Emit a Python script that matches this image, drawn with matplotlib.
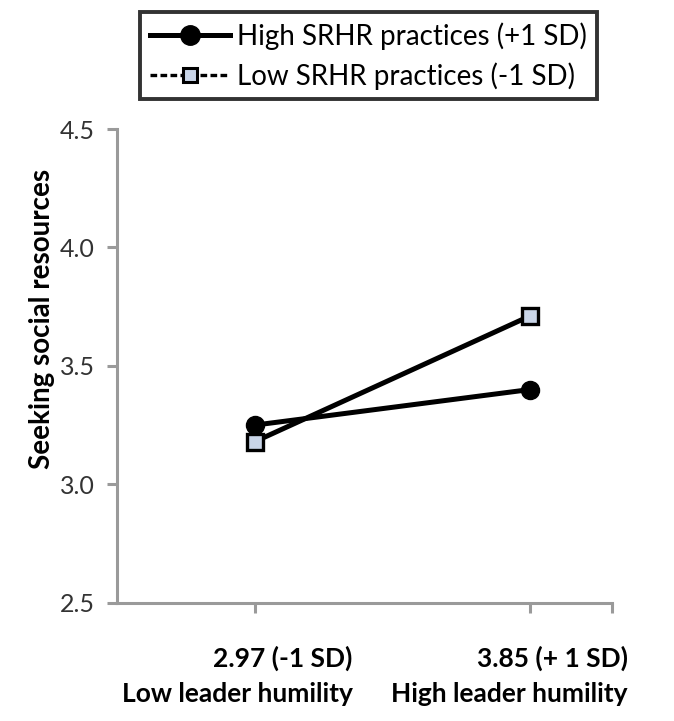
import matplotlib
matplotlib.use("Agg")
import matplotlib.pyplot as plt
from matplotlib.lines import Line2D
from matplotlib.transforms import ScaledTranslation

plt.rcParams['font.family'] = ['Lato', 'DejaVu Sans']

# data
x_pos = [1, 2]
x_labels = ['2.97 (-1 SD)\nLow leader humility', '3.85 (+ 1 SD)\nHigh leader humility']
high_srhr = [3.25, 3.40]
low_srhr = [3.18, 3.71]
y_ticks = [2.5, 3.0, 3.5, 4.0, 4.5]

fig = plt.figure(figsize=(6.74, 7.21), dpi=100)
ax = fig.add_axes([0.174, 0.164, 0.734, 0.657])

ax.plot(x_pos, high_srhr, color='black', lw=3.6, marker='o', ms=13,
        mfc='black', mec='black', zorder=3)
ax.plot(x_pos, low_srhr, color='black', lw=3.6, marker='s', ms=11,
        mfc='#c9d5e8', mec='black', mew=2.4, zorder=3)

ax.set_xlim(0.5, 2.3)
ax.set_ylim(2.5, 4.5)
ax.set_yticks(y_ticks)
ax.set_yticklabels([f'{v:.1f}' for v in y_ticks], fontsize=18, color='#333333')
ax.set_xticks([1, 2, 2.3])
ax.set_xticklabels([])

# category labels, right aligned a bit to the right of each tick
shift = ScaledTranslation(0.98, 0, fig.dpi_scale_trans)
for xv, lab in zip(x_pos, x_labels):
    ax.text(xv, -0.09, lab, transform=ax.get_xaxis_transform() + shift,
            ha='right', va='top', multialignment='right', fontsize=19,
            fontweight='bold', linespacing=1.55)

for s in ['top', 'right']:
    ax.spines[s].set_visible(False)
for s in ['left', 'bottom']:
    ax.spines[s].set_color('#9a9a9a')
    ax.spines[s].set_linewidth(2.2)
ax.tick_params(axis='both', colors='#9a9a9a', width=2.2, length=7, direction='out')
ax.tick_params(axis='y', labelcolor='#333333', pad=9)

ax.set_ylabel('Seeking social resources', fontsize=20, fontweight='bold')
ax.yaxis.set_label_coords(-0.125, 0.60)

handles = [
    Line2D([], [], color='black', lw=3.6, marker='o', ms=14, mfc='black'),
    Line2D([], [], color='black', lw=2.4, ls=(0, (2, 1)), marker='s', ms=10,
           mfc='#c9d5e8', mec='black', mew=2.2),
]
leg = fig.legend(handles, ['High SRHR practices (+1 SD)', 'Low SRHR practices (-1 SD)'],
                 loc='upper left', bbox_to_anchor=(0.208, 0.983), fontsize=20,
                 frameon=True, fancybox=False, handlelength=2.9, handletextpad=0.25,
                 borderpad=0.35, labelspacing=0.45, borderaxespad=0)
leg.get_frame().set_edgecolor('black')
leg.get_frame().set_linewidth(2.8)

fig.savefig('out.png', dpi=100)
